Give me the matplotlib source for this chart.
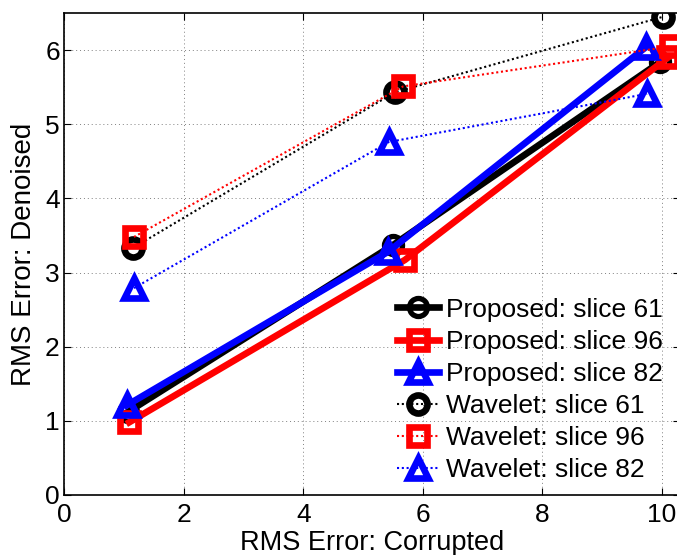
import matplotlib
matplotlib.use("Agg")
import matplotlib.pyplot as plt

plt.rcParams['font.family'] = ['Liberation Sans', 'DejaVu Sans']

x_p61 = [1.07, 5.50, 9.97]
y_p61 = [1.12, 3.37, 5.84]
x_p96 = [1.09, 5.70, 10.10]
y_p96 = [0.98, 3.17, 5.90]
x_p82 = [1.05, 5.42, 9.73]
y_p82 = [1.21, 3.28, 6.04]

x_w61 = [1.15, 5.53, 10.02]
y_w61 = [3.33, 5.43, 6.45]
x_w96 = [1.17, 5.67, 10.15]
y_w96 = [3.48, 5.51, 6.05]
x_w82 = [1.17, 5.43, 9.75]
y_w82 = [2.79, 4.76, 5.41]

labels = ["Proposed: slice 61", "Proposed: slice 96", "Proposed: slice 82",
          "Wavelet: slice 61", "Wavelet: slice 96", "Wavelet: slice 82"]

fig = plt.figure(figsize=(6.77, 5.55), dpi=100)
ax = fig.add_axes([64/677, 60/555, 616/677, 482/555])

dot = (0, (1.0, 1.3))
ms = 13
mew = 3.8
ax.plot(x_p61, y_p61, '-', color='k', lw=4.8, marker='o', ms=ms, mew=mew, mfc='none', label=labels[0])
ax.plot(x_p96, y_p96, '-', color='r', lw=4.8, marker='s', ms=ms, mew=mew+1, mfc='none', label=labels[1])
ax.plot(x_p82, y_p82, '-', color='b', lw=4.8, marker='^', ms=ms+2, mew=mew+1, mfc='none', label=labels[2])
ax.plot(x_w61, y_w61, linestyle=dot, color='k', lw=1.5, marker='o', ms=ms, mew=mew+1, mfc='none', label=labels[3])
ax.plot(x_w96, y_w96, linestyle=dot, color='r', lw=1.5, marker='s', ms=ms, mew=mew+1, mfc='none', label=labels[4])
ax.plot(x_w82, y_w82, linestyle=dot, color='b', lw=1.5, marker='^', ms=ms+2, mew=mew+1, mfc='none', label=labels[5])

ax.set_xlim(0, 10.3)
ax.set_ylim(0, 6.5)
ax.set_xticks([0, 2, 4, 6, 8, 10])
ax.set_yticks([0, 1, 2, 3, 4, 5, 6])
ax.grid(True, linestyle=(0, (1, 3)), color='k', lw=0.7, alpha=0.5)
ax.tick_params(direction='in', labelsize=19, length=5, top=True, right=True)
ax.tick_params(axis='x', pad=6)
ax.tick_params(axis='y', pad=3)
for s in ax.spines.values():
    s.set_linewidth(1.2)
ax.set_xlabel("RMS Error: Corrupted", fontsize=19.5, labelpad=2)
ax.set_ylabel("RMS Error: Denoised", fontsize=20, labelpad=6)

leg = ax.legend(loc='lower right', bbox_to_anchor=(0.98, 0.015), frameon=False, fontsize=19,
                handlelength=1.6, handletextpad=0.25, labelspacing=0.31, borderaxespad=0.0,
                borderpad=0.2)

fig.savefig("out.png", dpi=100)
